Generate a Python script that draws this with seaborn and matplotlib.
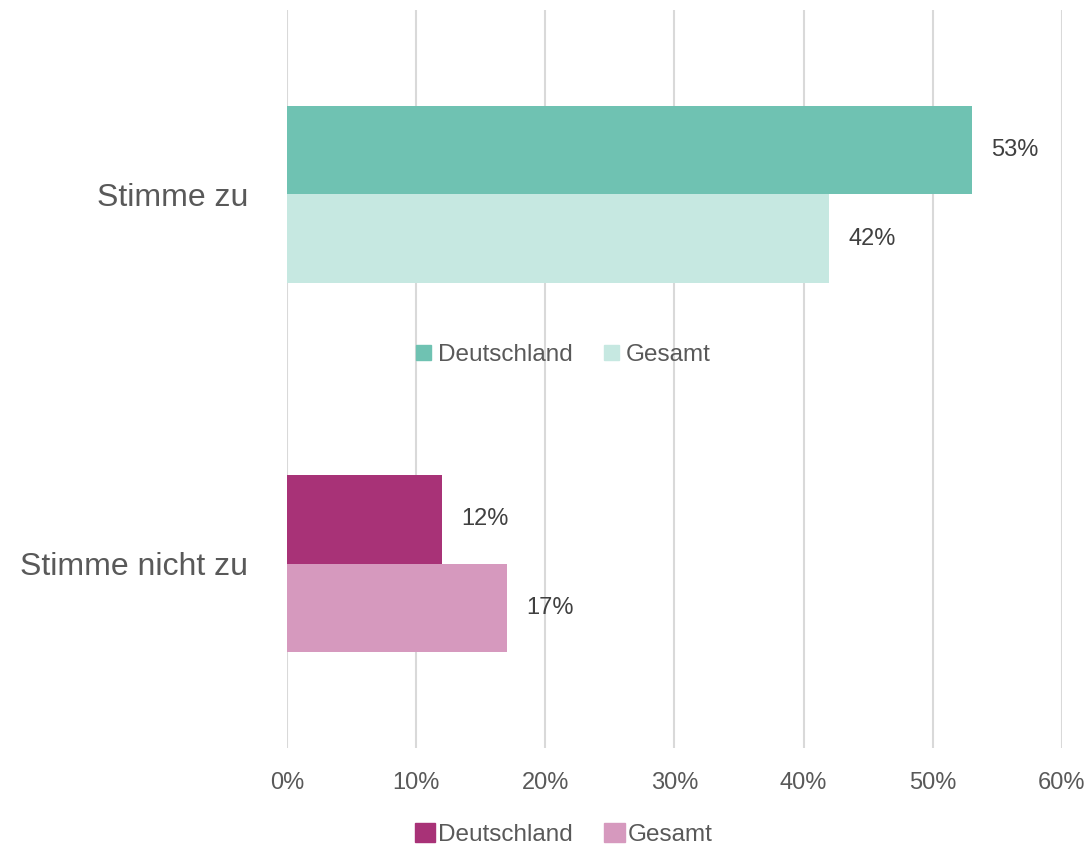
import pandas as pd
import matplotlib.pyplot as plt
import seaborn as sns
from matplotlib.patches import Patch

# Data
categories = ["Stimme zu", "Stimme nicht zu"]
series = ["Deutschland", "Gesamt"]
deutschland = [53, 12]
gesamt = [42, 17]

teal = ["#6FC2B2", "#C6E8E1"]
magenta = ["#A83277", "#D699BE"]

df = pd.DataFrame({
    "Antwort": categories * 2,
    "Gruppe": ["Deutschland"] * 2 + ["Gesamt"] * 2,
    "Wert": deutschland + gesamt,
})

sns.set_style("white")
plt.rcParams['font.family'] = ['Liberation Sans', 'DejaVu Sans']
text_col = "#595959"

fig = plt.figure(figsize=(10.92, 8.46), dpi=100)
ax = fig.add_axes([0.2628, 0.1158, 0.7097, 0.8724])

# one call per category so each gets its own palette
for cat, pal in zip(categories, [teal, magenta]):
    sns.barplot(
        data=df[df["Antwort"] == cat],
        x="Wert", y="Antwort", hue="Gruppe",
        order=categories, hue_order=series,
        palette=pal, width=0.48, saturation=1,
        linewidth=0, legend=False, ax=ax,
    )

# value labels
for c in ax.containers:
    ax.bar_label(c, labels=[f"{v:.0f}%" if v > 0 else "" for v in c.datavalues],
                 padding=14, fontsize=17, color="#404040")

ax.set_xlim(0, 60)
ax.set_ylim(1.5, -0.5)
ax.set_xticks(range(0, 61, 10))
ax.set_xticklabels([f"{t}%" for t in range(0, 61, 10)], fontsize=17, color=text_col)
ax.tick_params(axis="x", pad=17, length=0)
ax.tick_params(axis="y", pad=28, length=0)
ax.set_yticks([0, 1])
ax.set_yticklabels(categories, fontsize=23, color=text_col)
ax.set_xlabel("")
ax.set_ylabel("")
ax.grid(axis="x", color="#D9D9D9", linewidth=1.5)
ax.set_axisbelow(True)
for s in ax.spines.values():
    s.set_visible(False)

# two legends, one per colour set
h1 = [Patch(color=teal[0]), Patch(color=teal[1])]
fig.legend(h1, series, loc="center", bbox_to_anchor=(0.516, 0.580),
           ncol=2, frameon=False, fontsize=17.5, handlelength=0.6,
           handleheight=0.6, handletextpad=0.3, columnspacing=1.3,
           labelcolor=text_col)
h2 = [Patch(color=magenta[0]), Patch(color=magenta[1])]
fig.legend(h2, series, loc="center", bbox_to_anchor=(0.516, 0.014),
           ncol=2, frameon=False, fontsize=17.5, handlelength=0.85,
           handleheight=0.85, handletextpad=0.1, columnspacing=1.3,
           labelcolor=text_col)

fig.savefig("out.png", dpi=100)
